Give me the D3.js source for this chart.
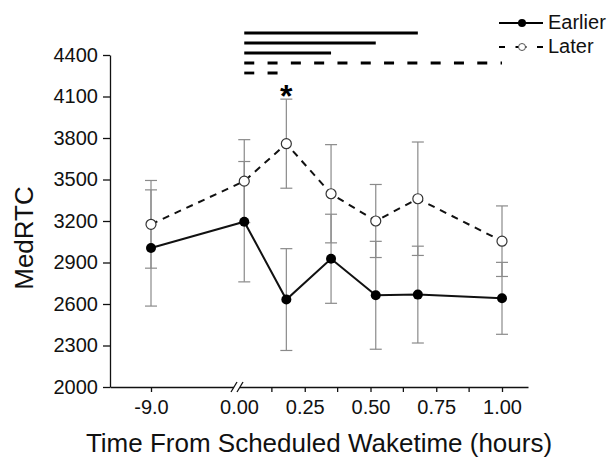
<!DOCTYPE html>
<html>
<head>
<meta charset="utf-8">
<script src="https://cdn.jsdelivr.net/npm/d3@7"></script>
<style>
  body { margin: 0; background: #fff; }
  svg { display: block; font-family: "Liberation Sans", Arial, sans-serif; }
  .axis text { font-size: 20px; fill: #111; }
  .axis path, .axis line { stroke: #111; stroke-width: 1.3px; }
  .errbar { stroke: #8a8a8a; stroke-width: 1.2px; }
</style>
</head>
<body>
<script>
// time points (hours from scheduled waketime), -9.0 sits left of the axis break
const timePoints = [-9.0, 0.02, 0.18, 0.35, 0.52, 0.68, 1.00]
const earlierMean = [3005, 3195, 2632, 2927, 2663, 2668, 2641]
const earlierErr = [420, 435, 368, 322, 390, 350, 260]
const laterMean = [3176, 3488, 3759, 3397, 3200, 3361, 3054]
const laterErr = [317, 300, 322, 355, 264, 410, 255]

const yTicks = [2000, 2300, 2600, 2900, 3200, 3500, 3800, 4100, 4400]
const xTicks = [-9.0, 0.00, 0.25, 0.50, 0.75, 1.00]
const xMinorTicks = [0.125, 0.375, 0.625, 0.875]

// significance bars above the plot (from / to / which group)
const sigFrom = [0.02, 0.02, 0.02, 0.02, 0.02]
const sigTo = [0.68, 0.52, 0.35, 1.00, 0.18]
const sigGroup = ['Earlier', 'Earlier', 'Earlier', 'Later', 'Later']

drawChart()

function drawChart() {
  var width = 613
  var height = 460

  var svg = d3.select('body').append('svg')
    .attr('width', width)
    .attr('height', height)

  // broken x axis: piecewise linear scale
  var x = d3.scaleLinear()
    .domain([-10, -9, 0, 1, 1.1])
    .range([110, 151, 239, 502, 528])

  var y = d3.scaleLinear()
    .domain([2000, 4400])
    .range([387, 55])

  // y axis
  svg.append('g')
    .attr('class', 'axis')
    .attr('transform', 'translate(110,0)')
    .call(d3.axisLeft(y)
      .tickValues(yTicks)
      .tickSize(7)
      .tickPadding(5)
      .tickSizeOuter(0)
      .tickFormat(d3.format('d')))

  // x axis
  var xAxis = svg.append('g')
    .attr('class', 'axis')
    .attr('transform', 'translate(0,387)')
    .call(d3.axisBottom(x)
      .tickValues(xTicks)
      .tickSize(5)
      .tickPadding(8)
      .tickSizeOuter(0)
      .tickFormat(function(d) { return d < 0 ? d.toFixed(1) : d.toFixed(2) }))

  // no tick mark at the break itself
  xAxis.selectAll('.tick line').filter(function(d) { return d === 0 }).remove()

  xAxis.selectAll('.minor')
    .data(xMinorTicks)
    .enter().append('line')
      .attr('class', 'minor')
      .attr('x1', function(d) { return x(d) })
      .attr('x2', function(d) { return x(d) })
      .attr('y1', 0)
      .attr('y2', 5)

  // axis break marks
  var bx = x(0) - 2
  xAxis.append('rect')
    .attr('x', bx - 3).attr('y', -2)
    .attr('width', 6).attr('height', 4)
    .attr('fill', '#fff')
  xAxis.selectAll('.brk')
    .data([-3, 3])
    .enter().append('line')
      .attr('class', 'brk')
      .attr('x1', function(d) { return bx + d - 3 })
      .attr('x2', function(d) { return bx + d + 3 })
      .attr('y1', 5)
      .attr('y2', -5)

  // axis titles
  svg.append('text')
    .attr('transform', 'translate(33,238) rotate(-90)')
    .attr('text-anchor', 'middle')
    .attr('font-size', 26)
    .attr('fill', '#111')
    .text('MedRTC')

  svg.append('text')
    .attr('x', 319)
    .attr('y', 452)
    .attr('text-anchor', 'middle')
    .attr('font-size', 26)
    .attr('fill', '#111')
    .text('Time From Scheduled Waketime (hours)')

  var later = timePoints.map(function(t, i) { return { t: t, v: laterMean[i], e: laterErr[i] } })
  var earlier = timePoints.map(function(t, i) { return { t: t, v: earlierMean[i], e: earlierErr[i] } })

  // error bars
  addErrorBars(later)
  addErrorBars(earlier)

  var line = d3.line()
    .x(function(d) { return x(d.t) })
    .y(function(d) { return y(d.v) })

  svg.append('path')
    .datum(later)
    .attr('d', line)
    .attr('fill', 'none')
    .attr('stroke', '#111')
    .attr('stroke-width', 2)
    .attr('stroke-dasharray', '7,6')

  svg.append('path')
    .datum(earlier)
    .attr('d', line)
    .attr('fill', 'none')
    .attr('stroke', '#111')
    .attr('stroke-width', 2)

  svg.append('g').selectAll('circle')
    .data(later)
    .enter().append('circle')
      .attr('cx', function(d) { return x(d.t) })
      .attr('cy', function(d) { return y(d.v) })
      .attr('r', 5)
      .attr('fill', '#fff')
      .attr('stroke', '#333')
      .attr('stroke-width', 1.2)

  svg.append('g').selectAll('circle')
    .data(earlier)
    .enter().append('circle')
      .attr('cx', function(d) { return x(d.t) })
      .attr('cy', function(d) { return y(d.v) })
      .attr('r', 5)
      .attr('fill', '#000')

  // significance bars
  svg.append('g').selectAll('line')
    .data(sigFrom)
    .enter().append('line')
      .attr('x1', function(d) { return x(d) })
      .attr('x2', function(d, i) { return x(sigTo[i]) })
      .attr('y1', function(d, i) { return 33 + i * 10 })
      .attr('y2', function(d, i) { return 33 + i * 10 })
      .attr('stroke', '#000')
      .attr('stroke-width', 2.8)
      .attr('stroke-dasharray', function(d, i) { return sigGroup[i] === 'Later' ? '10,13.3' : null })

  // asterisk over the 0.18 later point
  svg.append('text')
    .attr('x', x(timePoints[2]))
    .attr('y', y(laterMean[2] + laterErr[2]) + 8)
    .attr('text-anchor', 'middle')
    .attr('font-size', 32)
    .attr('font-weight', 'bold')
    .attr('fill', '#000')
    .text('*')

  addLegend()

  function addErrorBars(data) {
    var g = svg.append('g')
    g.selectAll('.v')
      .data(data)
      .enter().append('line')
        .attr('class', 'errbar')
        .attr('x1', function(d) { return x(d.t) })
        .attr('x2', function(d) { return x(d.t) })
        .attr('y1', function(d) { return y(d.v - d.e) })
        .attr('y2', function(d) { return y(d.v + d.e) })
    ;['lo', 'hi'].forEach(function(side) {
      g.selectAll('.' + side)
        .data(data)
        .enter().append('line')
          .attr('class', 'errbar')
          .attr('x1', function(d) { return x(d.t) - 6 })
          .attr('x2', function(d) { return x(d.t) + 6 })
          .attr('y1', function(d) { return y(side === 'hi' ? d.v + d.e : d.v - d.e) })
          .attr('y2', function(d) { return y(side === 'hi' ? d.v + d.e : d.v - d.e) })
    })
  }

  function addLegend() {
    var legend = svg.append('g')
      .attr('transform', 'translate(499,0)')

    legend.append('line')
      .attr('x1', 0).attr('x2', 44)
      .attr('y1', 23).attr('y2', 23)
      .attr('stroke', '#000').attr('stroke-width', 2)
    legend.append('circle')
      .attr('cx', 23).attr('cy', 23).attr('r', 4)
      .attr('fill', '#000')
    legend.append('text')
      .attr('x', 49).attr('y', 29)
      .attr('font-size', 20).attr('fill', '#111')
      .text('Earlier')

    legend.append('line')
      .attr('x1', 0).attr('x2', 44)
      .attr('y1', 47).attr('y2', 47)
      .attr('stroke', '#000').attr('stroke-width', 2)
      .attr('stroke-dasharray', '6,10.5,11,10.5,6')
    legend.append('circle')
      .attr('cx', 23).attr('cy', 47).attr('r', 3.5)
      .attr('fill', '#fff').attr('stroke', '#555').attr('stroke-width', 1)
    legend.append('text')
      .attr('x', 49).attr('y', 53)
      .attr('font-size', 20).attr('fill', '#111')
      .text('Later')
  }
}
</script>
</body>
</html>
